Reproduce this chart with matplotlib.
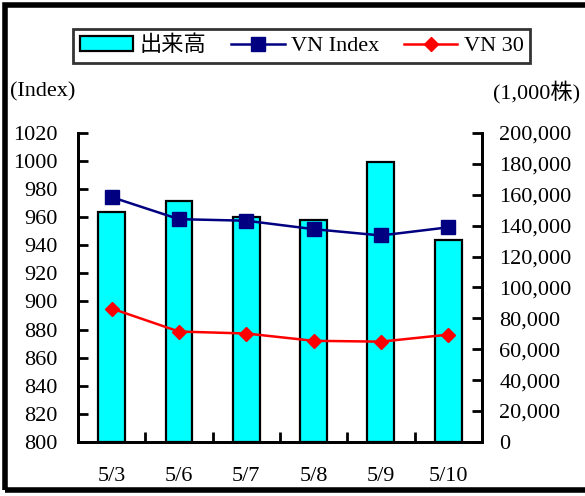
import matplotlib
matplotlib.use('Agg')
import matplotlib.pyplot as plt
from matplotlib.patches import Rectangle
import numpy as np

dates = ['5/3', '5/6', '5/7', '5/8', '5/9', '5/10']
volume = [149000, 156000, 145500, 143500, 181000, 131000]   # 出来高 (1,000株)
vn_index = [974.3, 958.6, 957.5, 951.5, 947.0, 952.8]
vn30 = [895.0, 878.6, 877.2, 872.0, 871.4, 876.4]

plt.rcParams['font.family'] = ['Liberation Serif', 'Noto Sans CJK JP']
fs = 16

fig = plt.figure(figsize=(5.85, 4.96), dpi=100)
ax = fig.add_axes([0.1333, 0.109, 0.6905, 0.623])
ax2 = ax.twinx()

x = np.arange(len(dates))
bars = ax2.bar(x, volume, width=0.4, color='#00ffff', edgecolor='black', linewidth=1.6, label='出来高')
l1, = ax.plot(x, vn_index, '-s', color='#000080', lw=1.8, ms=10.5, label='VN Index')
l2, = ax.plot(x, vn30, '-D', color='red', lw=1.8, ms=7.5, label='VN 30')

ax.set_zorder(ax2.get_zorder() + 1)
ax.patch.set_visible(False)

ax.set_xlim(-0.5, len(dates) - 0.5)
ax.set_ylim(800, 1020)
ax.set_yticks(np.arange(800, 1021, 20))
ax2.set_ylim(0, 200000)
ax2.set_yticks(np.arange(0, 200001, 20000))
ax2.set_yticklabels(['{:,}'.format(v) for v in range(0, 200001, 20000)])

ax.set_xticks(x)
ax.set_xticklabels(dates)
ax.set_xticks(np.arange(0.5, len(dates) - 0.5), minor=True)
ax.tick_params(axis='x', which='major', length=0, pad=18, labelsize=fs)
ax.tick_params(axis='x', which='minor', direction='in', length=7, width=2)
ax.tick_params(axis='y', direction='in', length=7, width=2, labelsize=fs, pad=15)
ax2.tick_params(axis='y', direction='in', length=7, width=2, labelsize=fs, pad=12.5)

for a in (ax, ax2):
    a.spines['top'].set_visible(False)
    for s in ('left', 'right', 'bottom'):
        a.spines[s].set_linewidth(2)

fig.text(0.017, 0.815, '(Index)', fontsize=fs, ha='left', va='center')
fig.text(0.843, 0.815, '(1,000株)', fontsize=fs, ha='left', va='center')

leg = fig.legend([bars, l1, l2], ['出来高', 'VN Index', 'VN 30'], ncol=3,
                 loc='center', bbox_to_anchor=(0.516, 0.907), fontsize=fs,
                 frameon=True, fancybox=False, edgecolor='black',
                 handlelength=2.4, handletextpad=0.3, columnspacing=1.1,
                 borderpad=0.3)
leg.get_frame().set_linewidth(2)

fig.patches.append(Rectangle((0.0085, 0.012), 1.2, 0.978, transform=fig.transFigure,
                             fill=False, edgecolor='black', linewidth=4))

fig.savefig('out.png', dpi=100)
